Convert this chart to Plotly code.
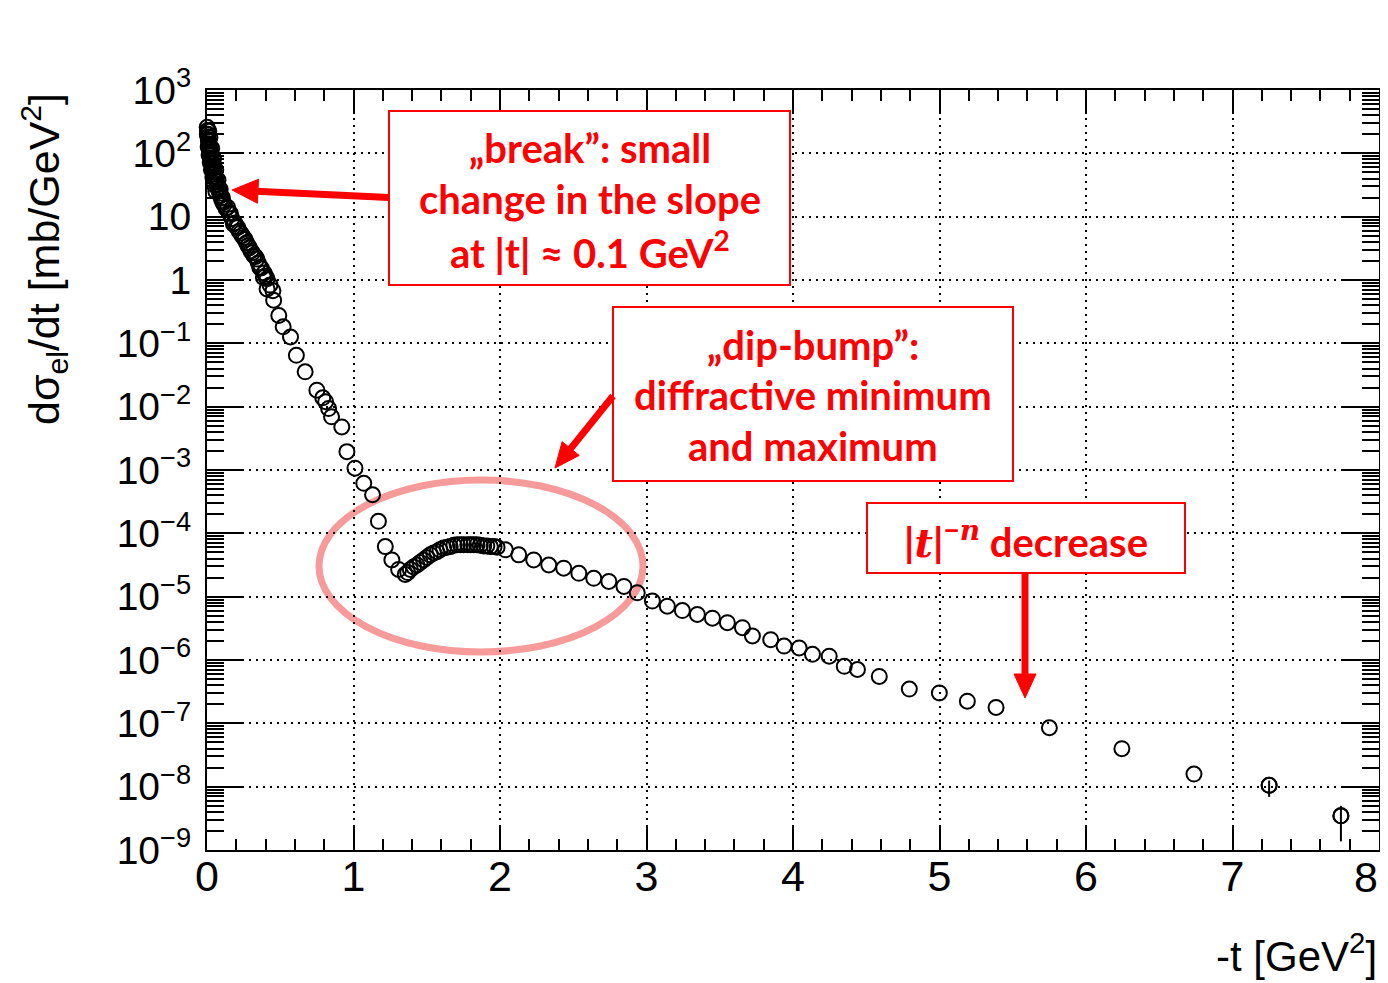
import plotly.graph_objects as go

# ---------------- data ----------------
# low |t| band, two interleaved sets
t_low_a = [0.001, 0.003, 0.005, 0.007, 0.009, 0.011, 0.013, 0.015, 0.017, 0.019, 0.021, 0.023,
           0.025, 0.028, 0.031, 0.034, 0.037, 0.040, 0.044, 0.048, 0.052, 0.056, 0.060, 0.065,
           0.070, 0.075, 0.080, 0.086, 0.092, 0.098, 0.104, 0.110, 0.117]
y_low_a = [257, 229, 200, 182, 166, 155, 141, 132, 120, 115, 105, 100,
           93, 85, 79, 72, 68, 63, 58, 51, 47, 43, 39, 35.5,
           31.6, 28.8, 26.3, 23.4, 21.4, 19.5, 17.8, 16.6, 15.5]
t_low_b = [0.002, 0.008, 0.014, 0.022, 0.030, 0.040, 0.050, 0.060,
           0.012, 0.020, 0.032, 0.045, 0.060, 0.075, 0.090, 0.105]
y_low_b = [200, 126, 95, 72, 55, 42, 31.6, 25.1,
           224, 178, 120, 83, 55, 38, 27, 20]

t_mid_a = [0.13, 0.15, 0.17, 0.19, 0.21, 0.23, 0.25, 0.27, 0.29, 0.31, 0.33, 0.35, 0.37,
           0.39, 0.41, 0.43, 0.45]
y_mid_a = [13.5, 11.5, 9.33, 7.94, 6.76, 5.50, 4.68, 3.89, 3.24, 2.69, 2.34, 1.86, 1.55,
           1.29, 1.05, 0.832, 0.676]
t_mid_b = [0.14, 0.16, 0.18, 0.20, 0.22, 0.24, 0.26, 0.28, 0.30, 0.32, 0.34, 0.36, 0.385,
           0.40, 0.41]
y_mid_b = [14.1, 11.2, 7.67, 6.92, 5.89, 5.01, 4.37, 3.47, 2.88, 2.43, 2.14, 1.58, 1.10,
           1.15, 0.724]

t_high = [0.455, 0.49, 0.52, 0.57, 0.61, 0.67, 0.75, 0.79, 0.81, 0.83, 0.85, 0.92, 0.955,
          1.01, 1.07, 1.13, 1.17, 1.217, 1.262, 1.308, 1.353, 1.37, 1.388, 1.41, 1.433,
          1.455, 1.478, 1.50, 1.524, 1.547, 1.57, 1.59, 1.615, 1.64, 1.66, 1.685, 1.707,
          1.73, 1.752, 1.78, 1.80, 1.82, 1.843, 1.865, 1.889, 1.91, 1.934, 1.96, 1.98,
          2.037, 2.128, 2.23, 2.333, 2.435, 2.538, 2.64, 2.743, 2.846, 2.937, 3.04, 3.142,
          3.245, 3.347, 3.45, 3.552, 3.655, 3.723, 3.848, 3.939, 4.042, 4.133, 4.247, 4.35,
          4.44, 4.589, 4.794, 4.999, 5.19, 5.386, 5.75, 6.245, 6.737, 7.25, 7.74]
y_high = [0.479, 0.275, 0.182, 0.126, 0.0646, 0.0355, 0.0182, 0.0138, 0.0120, 0.00933,
          0.00692, 0.00479, 0.00195, 0.00107, 6.17e-4, 4.07e-4, 1.55e-4, 6.17e-5, 3.80e-5,
          2.69e-5, 2.24e-5, 2.40e-5, 2.69e-5, 2.95e-5, 3.16e-5, 3.47e-5, 3.80e-5, 4.17e-5,
          4.57e-5, 4.90e-5, 5.13e-5, 5.50e-5, 5.89e-5, 6.03e-5, 6.17e-5, 6.46e-5, 6.61e-5,
          6.61e-5, 6.61e-5, 6.61e-5, 6.61e-5, 6.61e-5, 6.61e-5, 6.46e-5, 6.31e-5, 6.31e-5,
          6.17e-5, 6.17e-5, 6.03e-5, 5.50e-5, 4.57e-5, 3.80e-5, 3.16e-5, 2.82e-5, 2.34e-5,
          1.95e-5, 1.74e-5, 1.45e-5, 1.15e-5, 8.51e-6, 7.08e-6, 6.03e-6, 5.25e-6, 4.57e-6,
          3.89e-6, 3.24e-6, 2.40e-6, 2.09e-6, 1.66e-6, 1.55e-6, 1.23e-6, 1.15e-6, 7.94e-7,
          7.08e-7, 5.50e-7, 3.47e-7, 3.02e-7, 2.24e-7, 1.78e-7, 8.51e-8, 3.98e-8, 1.58e-8,
          1.05e-8, 3.47e-9]
# error bars (only visible on the last two points)
t_err = [7.25, 7.74]
y_err = [1.05e-8, 3.47e-9]
err_plus = [2.0e-9, 1.5e-9]
err_minus = [3.6e-9, 2.1e-9]

x_ticks = [0, 1, 2, 3, 4, 5, 6, 7, 8]
x_ticktext = ["0", "1", "2", "3", "4", "5", "6", "7", ""]   # "8" drawn as a note (edge)
x_last_label = "8"
y_tickvals = [1e3, 1e2, 1e1, 1, 1e-1, 1e-2, 1e-3, 1e-4, 1e-5, 1e-6, 1e-7, 1e-8, 1e-9]
y_ticktext = ["10<sup>3</sup>", "10<sup>2</sup>", "10", "1", "10<sup>\u22121</sup>",
              "10<sup>\u22122</sup>", "10<sup>\u22123</sup>", "10<sup>\u22124</sup>",
              "10<sup>\u22125</sup>", "10<sup>\u22126</sup>", "10<sup>\u22127</sup>",
              "10<sup>\u22128</sup>", "10<sup>\u22129</sup>"]

# ---------------- layout geometry ----------------
# the page body has an 8px margin, so the figure is drawn 8px smaller and the
# reference pixel coordinates below are converted to paper units of the plot area
OFF = 8
W, H = 1388 - OFF, 983 - OFF
X0, X1, Y0, Y1 = 207, 1379, 90, 850          # plot frame in reference pixels
PW, PH = X1 - X0, Y1 - Y0
L, T = X0 - OFF, Y0 - OFF
R, B = W - L - PW, H - T - PH


def px(x):
    return (x - X0) / PW


def py(y):
    return (Y1 - y) / PH


RED = "#ff0000"

fig = go.Figure()
marker = dict(symbol="circle-open", size=15, color="black", line=dict(width=2, color="black"))
for tx, ty in [(t_low_a, y_low_a), (t_low_b, y_low_b), (t_mid_a, y_mid_a),
               (t_mid_b, y_mid_b), (t_high, y_high)]:
    fig.add_trace(go.Scatter(x=tx, y=ty, mode="markers", marker=marker,
                             cliponaxis=False, showlegend=False, hoverinfo="skip"))
fig.add_trace(go.Scatter(x=t_err, y=y_err, mode="markers", marker=marker, cliponaxis=False,
                         showlegend=False, hoverinfo="skip",
                         error_y=dict(type="data", array=err_plus, arrayminus=err_minus,
                                      symmetric=False, thickness=2, width=0, color="black")))

minor_vals = []
for e in range(-9, 3):
    for m in range(2, 10):
        minor_vals.append(m * 10.0 ** e)

fig.update_layout(
    width=W, height=H,
    margin=dict(l=L, r=R, t=T, b=B, pad=0, autoexpand=False),
    paper_bgcolor="white", plot_bgcolor="white",
    font=dict(family="Liberation Sans, Arial, sans-serif", color="black"),
    xaxis=dict(range=[0, 8], tickmode="array", tickvals=x_ticks,
               ticktext=x_ticktext, automargin=False,
               ticks="inside", ticklen=24, tickwidth=2, tickcolor="black",
               showline=True, linewidth=2, linecolor="black", mirror="ticks",
               showgrid=True, gridcolor="black", gridwidth=2, griddash="2px,5px",
               zeroline=False, tickfont=dict(size=43, family="Liberation Sans"),
               ticklabelstandoff=-13, ticklabeloverflow="allow",
               minor=dict(tickmode="linear", tick0=0, dtick=0.2, ticks="inside", ticklen=11,
                          tickwidth=2, tickcolor="black", showgrid=False)),
    yaxis=dict(type="log", range=[-9, 3], tickmode="array", tickvals=y_tickvals,
               ticktext=y_ticktext, automargin=False,
               ticks="inside", ticklen=36, tickwidth=2, tickcolor="black",
               showline=True, linewidth=2, linecolor="black", mirror="ticks",
               showgrid=True, gridcolor="black", gridwidth=2, griddash="2px,5px",
               zeroline=False, tickfont=dict(size=39, family="Liberation Sans"),
               ticklabelstandoff=6, ticklabeloverflow="allow",
               minor=dict(tickmode="array", tickvals=minor_vals, ticks="inside", ticklen=17,
                          tickwidth=2, tickcolor="black", showgrid=False)),
)

shapes = []
# ellipse around dip-bump
shapes.append(dict(type="circle", xref="paper", yref="paper",
                   x0=px(319), x1=px(643), y0=py(652), y1=py(480),
                   line=dict(color="#f79a9a", width=7), layer="between"))
# boxes
for (x0, y0, x1, y1) in [(389, 111, 790, 285), (613, 307, 1013, 481), (867, 503, 1185, 573)]:
    shapes.append(dict(type="rect", xref="paper", yref="paper",
                       x0=px(x0), x1=px(x1), y0=py(y1), y1=py(y0),
                       line=dict(color=RED, width=2), fillcolor="white", layer="above"))


def arrow(x_from, y_from, x_tip, y_tip, head_len, head_half, width):
    dx, dy = x_tip - x_from, y_tip - y_from
    n = (dx * dx + dy * dy) ** 0.5
    ux, uy = dx / n, dy / n
    bx, by = x_tip - head_len * ux, y_tip - head_len * uy
    nx, ny = -uy, ux
    shapes.append(dict(type="line", xref="paper", yref="paper",
                       x0=px(x_from), y0=py(y_from), x1=px(bx + ux * 2), y1=py(by + uy * 2),
                       line=dict(color=RED, width=width), layer="above"))
    p1 = (px(bx + nx * head_half), py(by + ny * head_half))
    p2 = (px(bx - nx * head_half), py(by - ny * head_half))
    p3 = (px(x_tip), py(y_tip))
    path = f"M {p1[0]},{p1[1]} L {p2[0]},{p2[1]} L {p3[0]},{p3[1]} Z"
    shapes.append(dict(type="path", xref="paper", yref="paper", path=path,
                       fillcolor=RED, line=dict(color=RED, width=1), layer="above"))


arrow(389, 197.5, 232, 190, 26, 12, 7)
arrow(613, 396, 555, 468, 25, 11, 7)
arrow(1025, 574, 1025, 698, 24, 11, 7)
fig.update_layout(shapes=shapes)

ann_font = dict(family="Lato, Open Sans, sans-serif", size=40, color=RED, weight="bold")
anns = []
ZW = "\u200c"
box_lines = [
    (590, 148, "\u201ebreak\u201d: small"),
    (590, 199, "change in the slope"),
    (590, 250, "at |t| \u2248 0.1 GeV<sup>2</sup>"),
    (813, 345, "\u201edip-bump\u201d:"),
    (813, 395, "diffrac" + ZW + "tive minimum"),
    (813, 446, "and maximum"),
    (1026, 539, "|<span style=\"font-family:'DejaVu Serif'\"><i>t</i></span>|"
                "<sup>\u2212<span style=\"font-family:'DejaVu Serif'\"><i>n</i></span></sup> decrease"),
]
for (x, y, txt) in box_lines:
    anns.append(dict(xref="paper", yref="paper", x=px(x), y=py(y), text=txt, showarrow=False,
                     xanchor="center", yanchor="middle", font=ann_font))

# last x tick label, kept inside the visible page edge
anns.append(dict(xref="paper", yref="paper", x=px(1380), y=py(851), text=x_last_label,
                 showarrow=False, xanchor="right", yanchor="top",
                 font=dict(family="Liberation Sans", size=43, color="black")))

# axis titles
anns.append(dict(xref="paper", yref="paper", x=px(1379), y=py(953),
                 text="-t [GeV<sup>2</sup>]", showarrow=False, xanchor="right", yanchor="middle",
                 font=dict(family="Liberation Sans", size=42, color="black")))
anns.append(dict(xref="paper", yref="paper", x=px(44), y=py(259),
                 text="d\u03c3<sub>el</sub>/dt [mb/GeV<sup>2</sup>]", showarrow=False,
                 textangle=-90, xanchor="center", yanchor="middle",
                 font=dict(family="Liberation Sans", size=43, color="black")))
fig.update_layout(annotations=anns)

fig.write_html("out.html")
